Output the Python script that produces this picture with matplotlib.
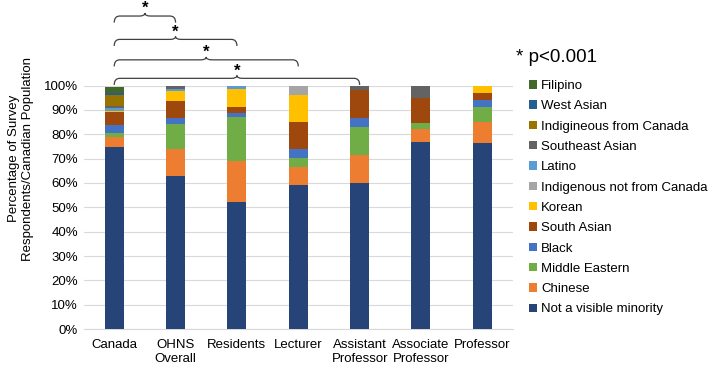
import numpy as np
import matplotlib.pyplot as plt
from matplotlib.path import Path
from matplotlib.patches import PathPatch
import matplotlib.transforms as mtransforms

plt.rcParams['font.family'] = ['Liberation Sans', 'DejaVu Sans']

# categories on the x axis
groups = ["Canada", "OHNS\nOverall", "Residents", "Lecturer",
          "Assistant\nProfessor", "Associate\nProfessor", "Professor"]

# percentages (bottom to top of each bar)
not_visible = [74.7, 62.9, 52.1, 59.2, 60.1, 77.0, 76.6]
chinese = [4.3, 11.1, 16.9, 7.2, 11.4, 5.1, 8.6]
middle_eastern = [1.5, 10.2, 18.1, 3.9, 11.4, 2.4, 5.9]
black = [3.3, 2.4, 1.7, 3.7, 3.8, 0.0, 3.0]
south_asian = [5.4, 7.1, 2.6, 11.1, 11.4, 10.3, 2.9]
korean = [0.5, 4.0, 7.2, 11.1, 0.0, 0.0, 3.0]
indig_not_canada = [0.0, 0.3, 0.0, 3.8, 0.0, 0.0, 0.0]
latino = [1.1, 0.5, 1.4, 0.0, 0.0, 0.0, 0.0]
southeast_asian = [0.8, 1.5, 0.0, 0.0, 1.9, 5.2, 0.0]
indig_canada = [4.7, 0.0, 0.0, 0.0, 0.0, 0.0, 0.0]
west_asian = [0.7, 0.0, 0.0, 0.0, 0.0, 0.0, 0.0]
filipino = [2.3, 0.0, 0.0, 0.0, 0.0, 0.0, 0.0]

series = [
    ("Not a visible minority", not_visible, "#264478"),
    ("Chinese", chinese, "#ED7D31"),
    ("Middle Eastern", middle_eastern, "#70AD47"),
    ("Black", black, "#4472C4"),
    ("South Asian", south_asian, "#9E480E"),
    ("Korean", korean, "#FFC000"),
    ("Indigenous not from Canada", indig_not_canada, "#A5A5A5"),
    ("Latino", latino, "#5B9BD5"),
    ("Southeast Asian", southeast_asian, "#636363"),
    ("Indigineous from Canada", indig_canada, "#997300"),
    ("West Asian", west_asian, "#255E91"),
    ("Filipino", filipino, "#43682B"),
]

# significance brackets: (from group, to group, height in axes fraction)
brackets = [(0, 1, 1.286), (0, 2, 1.190), (0, 3, 1.106), (0, 4, 1.030)]

fig = plt.figure(figsize=(7.08, 3.66), dpi=100)
ax = fig.add_axes([0.118, 0.101, 0.6066, 0.665])

x = np.arange(len(groups))
bottom = np.zeros(len(groups))
handles = []
for name, vals, col in series:
    v = np.array(vals) / 100.0
    h = ax.bar(x, v, width=0.31, bottom=bottom, color=col, label=name, zorder=3)
    handles.append(h)
    bottom += v

ax.set_xlim(-0.5, len(groups) - 0.5)
ax.set_ylim(0, 1)
ax.set_yticks(np.arange(0, 1.01, 0.1))
ax.set_yticklabels([f"{int(round(t * 100))}%" for t in np.arange(0, 1.01, 0.1)])
ax.set_xticks(x)
ax.set_xticklabels(groups)
ax.tick_params(axis='both', length=0, labelsize=9.5, colors='#000000')
ax.tick_params(axis='x', pad=7)
ax.tick_params(axis='y', pad=4)
ax.grid(axis='y', color='#D9D9D9', lw=0.8, zorder=0)
for s in ['top', 'right', 'left']:
    ax.spines[s].set_visible(False)
ax.spines['bottom'].set_color('#D9D9D9')

fig.text(0.03, 0.566, "Percentage of Survey\nRespondents/Canadian Population",
         rotation=90, ha='center', va='center', fontsize=9.5, multialignment='center')

# curly braces with stars
trans = mtransforms.blended_transform_factory(ax.transData, ax.transAxes)
d, t, r = 0.027, 0.012, 0.09
for a, b, y in brackets:
    x0, x1 = x[a], x[b]
    xm = (x0 + x1) / 2
    verts = [(x0, y - d), (x0, y), (x0 + r, y),
             (xm - r, y), (xm, y), (xm, y + t),
             (xm, y), (xm + r, y),
             (x1 - r, y), (x1, y), (x1, y - d)]
    codes = [Path.MOVETO, Path.CURVE3, Path.CURVE3,
             Path.LINETO, Path.CURVE3, Path.CURVE3,
             Path.CURVE3, Path.CURVE3,
             Path.LINETO, Path.CURVE3, Path.CURVE3]
    ax.add_patch(PathPatch(Path(verts, codes), transform=trans, fill=False,
                           edgecolor='#404040', lw=0.9, clip_on=False))
    ax.text(xm, y + t + 0.018, "*", transform=trans, ha='center', va='center',
            fontsize=12, fontweight='bold', clip_on=False)

fig.text(516 / 708, 1 - 57 / 366, "* p<0.001", fontsize=13.5, va='center', ha='left')

ax.legend(handles[::-1], [s[0] for s in series][::-1], loc='upper left',
          bbox_to_anchor=(529 / 708, 1 - 80 / 366), bbox_transform=fig.transFigure,
          frameon=False, fontsize=9.5, borderpad=0, borderaxespad=0,
          handlelength=0.6, handleheight=0.6, handletextpad=0.3, labelspacing=0.63)

fig.savefig("out.png", dpi=100)
